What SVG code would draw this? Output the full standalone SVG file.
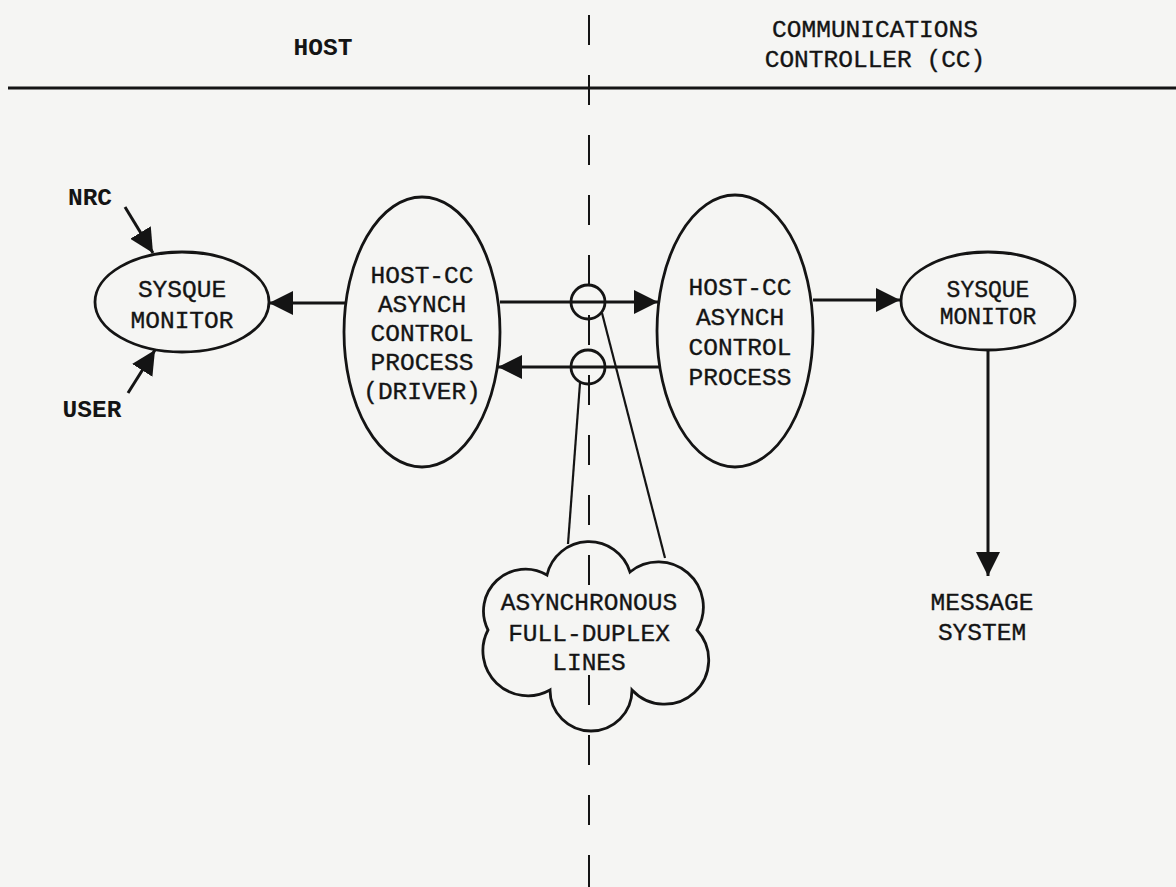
<svg xmlns="http://www.w3.org/2000/svg" width="1176" height="887" viewBox="0 0 1176 887">
<defs>
<style>
.t{font-family:"Liberation Mono","DejaVu Sans Mono",monospace;font-size:24.5px;fill:#141414;stroke:#141414;stroke-width:0.35;text-anchor:middle}
.b{font-weight:bold;stroke-width:0}
.s{font-size:23px}
.n{fill:none;stroke:#141414;stroke-width:2.8}
.c{fill:none;stroke:#141414;stroke-width:3}
.l{fill:none;stroke:#141414;stroke-width:2.2}
.d{fill:none;stroke:#141414;stroke-width:2}
</style>
<marker id="ah" viewBox="0 0 24 24" refX="24" refY="12" markerWidth="24" markerHeight="24" markerUnits="userSpaceOnUse" orient="auto">
<path d="M0,0 L24,12 L0,24 z" fill="#141414"/>
</marker>
</defs>
<rect width="1176" height="887" fill="#f5f5f3"/>

<g id="header">
<line x1="8" y1="88" x2="1176" y2="88" stroke="#141414" stroke-width="3"/>
<text class="t b" x="323" y="55">HOST</text>
<text class="t" x="875" y="37">COMMUNICATIONS</text>
<text class="t" x="875" y="67">CONTROLLER (CC)</text>
</g>

<g id="divider">
<path class="d" d="M589,15 V45 M589,75 V105 M589,135 V165 M589,195 V225 M589,255 V285 M589,315 V345 M589,375 V405 M589,435 V465 M589,495 V525 M589,555 V585 M589,675 V705 M589,735 V765 M589,795 V825 M589,855 V887"/>
</g>

<g id="connectors">
<line class="c" x1="345" y1="303" x2="269" y2="303" marker-end="url(#ah)"/>
<line class="c" x1="500" y1="302" x2="658" y2="302" marker-end="url(#ah)"/>
<line class="c" x1="660" y1="367" x2="498" y2="367" marker-end="url(#ah)"/>
<line class="c" x1="813" y1="300" x2="900" y2="300" marker-end="url(#ah)"/>
<line class="c" x1="988" y1="350" x2="988" y2="576" marker-end="url(#ah)"/>
<line class="c" x1="125" y1="207" x2="153" y2="253" marker-end="url(#ah)"/>
<line class="c" x1="128" y1="393" x2="155" y2="350" marker-end="url(#ah)"/>
<line class="l" x1="580" y1="383" x2="568" y2="544"/>
<line class="l" x1="602" y1="313" x2="665" y2="558"/>
</g>

<g id="junction-top"><circle class="n" cx="588" cy="302" r="17"/></g>
<g id="junction-bottom"><circle class="n" cx="588" cy="367" r="17"/></g>

<g id="nrc"><text class="t b" x="90" y="205">NRC</text></g>
<g id="user"><text class="t b" x="92" y="417">USER</text></g>

<g id="sysque-host">
<ellipse class="n" cx="182" cy="302" rx="87" ry="50"/>
<text class="t" x="182" y="297">SYSQUE</text>
<text class="t" x="182" y="328">MONITOR</text>
</g>

<g id="driver">
<ellipse class="n" cx="422" cy="332" rx="78" ry="135"/>
<text class="t" x="422" y="283">HOST-CC</text>
<text class="t" x="422" y="312">ASYNCH</text>
<text class="t" x="422" y="341">CONTROL</text>
<text class="t" x="422" y="370">PROCESS</text>
<text class="t" x="422" y="399">(DRIVER)</text>
</g>

<g id="cc-process">
<ellipse class="n" cx="735" cy="331" rx="78" ry="136"/>
<text class="t" x="740" y="295">HOST-CC</text>
<text class="t" x="740" y="325">ASYNCH</text>
<text class="t" x="740" y="355">CONTROL</text>
<text class="t" x="740" y="385">PROCESS</text>
</g>

<g id="sysque-cc">
<ellipse class="n" cx="988" cy="301" rx="87" ry="49"/>
<text class="t s" x="988" y="297">SYSQUE</text>
<text class="t s" x="988" y="324">MONITOR</text>
</g>

<g id="message-system">
<text class="t" x="982" y="610">MESSAGE</text>
<text class="t" x="982" y="640">SYSTEM</text>
</g>

<g id="lines-cloud">
<path class="n" d="M488,630 A42,42 0 0 1 547,575 A43,43 0 0 1 630,572 A45,45 0 0 1 697,630 A44,44 0 0 1 632,690 A41,41 0 0 1 550,690 A45,45 0 0 1 488,630 Z"/>
<text class="t" x="589" y="610">ASYNCHRONOUS</text>
<text class="t" x="589" y="641">FULL-DUPLEX</text>
<text class="t" x="589" y="670">LINES</text>
</g>
</svg>
